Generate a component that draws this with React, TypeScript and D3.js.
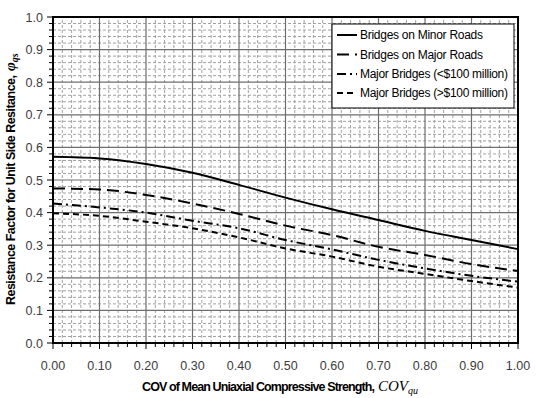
import * as d3 from "d3";

const WIDTH = 536;
const HEIGHT = 398;
const MARGIN = { top: 17, right: 18, bottom: 55, left: 53 };

const COV = [0, 0.1, 0.2, 0.3, 0.4, 0.5, 0.6, 0.7, 0.8, 0.9, 1.0];
const MINOR_ROADS = [0.571, 0.566, 0.549, 0.522, 0.485, 0.446, 0.41, 0.377, 0.344, 0.316, 0.288];
const MAJOR_ROADS = [0.474, 0.471, 0.454, 0.428, 0.396, 0.36, 0.331, 0.295, 0.27, 0.242, 0.221];
const MAJOR_LT100 = [0.428, 0.416, 0.4, 0.375, 0.352, 0.316, 0.287, 0.255, 0.229, 0.206, 0.188];
const MAJOR_GT100 = [0.398, 0.39, 0.372, 0.352, 0.324, 0.29, 0.265, 0.234, 0.212, 0.19, 0.17];

const SERIES = [
  { name: "Bridges on Minor Roads", values: MINOR_ROADS, dash: "" },
  { name: "Bridges on Major Roads", values: MAJOR_ROADS, dash: "12,6" },
  { name: "Major Bridges (<$100 million)", values: MAJOR_LT100, dash: "9,4,2,4" },
  { name: "Major Bridges (>$100 million)", values: MAJOR_GT100, dash: "6,4" },
];

const FONT = "Arial, 'Liberation Sans', sans-serif";
const SERIF = "'Liberation Serif', 'Times New Roman', serif";

export default function App() {
  const x = d3
    .scaleLinear()
    .domain([0, 1])
    .range([MARGIN.left, WIDTH - MARGIN.right]);
  const y = d3
    .scaleLinear()
    .domain([0, 1])
    .range([HEIGHT - MARGIN.bottom, MARGIN.top]);

  const majorTicks = d3.range(0, 11).map((i) => i / 10);
  const minorTicks = d3.range(0, 51).map((i) => i / 50).filter((_, i) => i % 5 !== 0);

  const line = d3
    .line<number>()
    .x((_, i) => x(COV[i]))
    .y((d) => y(d))
    .curve(d3.curveMonotoneX);

  const x0 = x(0);
  const x1 = x(1);
  const y0 = y(0);
  const y1 = y(1);

  const legendX = 332;
  const legendY = 24;
  const legendRows = [35, 54.5, 74, 93];

  return (
    <svg width={WIDTH} height={HEIGHT} style={{ position: "absolute", left: 0, top: 0 }}>
      <rect width={WIDTH} height={HEIGHT} fill="#fff" />
      {/* minor grid */}
      <g stroke="#a0a0a0" strokeWidth={1} strokeDasharray="3,2">
        {minorTicks.map((t) => (
          <line key={"mx" + t} x1={x(t)} x2={x(t)} y1={y0} y2={y1} />
        ))}
        {minorTicks.map((t) => (
          <line key={"my" + t} x1={x0} x2={x1} y1={y(t)} y2={y(t)} />
        ))}
      </g>
      {/* major grid */}
      <g stroke="#6e6e6e" strokeWidth={1.2}>
        {majorTicks.map((t) => (
          <line key={"gx" + t} x1={x(t)} x2={x(t)} y1={y0} y2={y1} />
        ))}
        {majorTicks.map((t) => (
          <line key={"gy" + t} x1={x0} x2={x1} y1={y(t)} y2={y(t)} />
        ))}
      </g>
      {/* axis ticks */}
      <g stroke="#000" strokeWidth={1}>
        {majorTicks.map((t) => (
          <line key={"ty" + t} x1={x0 - 6} x2={x0} y1={y(t)} y2={y(t)} />
        ))}
        {minorTicks.map((t) => (
          <line key={"tym" + t} x1={x0 - 4} x2={x0} y1={y(t)} y2={y(t)} />
        ))}
        {majorTicks.map((t) => (
          <line key={"tx" + t} x1={x(t)} x2={x(t)} y1={y0} y2={y0 + 6} />
        ))}
        {minorTicks.map((t) => (
          <line key={"txm" + t} x1={x(t)} x2={x(t)} y1={y0} y2={y0 + 4} />
        ))}
      </g>
      {/* plot border */}
      <rect x={x0} y={y1} width={x1 - x0} height={y0 - y1} fill="none" stroke="#000" strokeWidth={2} />
      {/* tick labels */}
      <g fontFamily={FONT} fontSize={12.5} fill="#3c3c3c">
        {majorTicks.map((t) => (
          <text key={"ly" + t} x={x0 - 10} y={y(t) + 4.5} textAnchor="end">
            {d3.format(".1f")(t)}
          </text>
        ))}
        {majorTicks.map((t) => (
          <text key={"lx" + t} x={x(t)} y={y0 + 27} textAnchor="middle">
            {d3.format(".2f")(t)}
          </text>
        ))}
      </g>
      {/* series */}
      <g fill="none" stroke="#000" strokeWidth={2}>
        {SERIES.map((s) => (
          <path key={s.name} d={line(s.values) ?? ""} strokeDasharray={s.dash || undefined} />
        ))}
      </g>
      {/* legend */}
      <rect x={legendX} y={legendY} width={182} height={84} fill="#fff" stroke="#000" strokeWidth={1} />
      {SERIES.map((s, i) => (
        <g key={"lg" + s.name}>
          <line
            x1={337}
            x2={357}
            y1={legendRows[i]}
            y2={legendRows[i]}
            stroke="#000"
            strokeWidth={2}
            strokeDasharray={s.dash || undefined}
          />
          <text
            x={360}
            y={legendRows[i] + 4}
            fontFamily={FONT}
            fontSize={12}
            fill="#000"
            textLength={i > 1 ? 148 : 123}
          >
            {s.name}
          </text>
        </g>
      ))}
      {/* axis titles */}
      <text x={142} y={391} fontFamily={FONT} fontSize={12.5} fontWeight="bold" fill="#000" textLength={233}>
        COV of Mean Uniaxial Compressive Strength,
      </text>
      <text x={378} y={391} fontFamily={SERIF} fontStyle="italic" fontSize={15} fill="#000">
        COV
        <tspan fontSize={10} dy={3}>
          qu
        </tspan>
      </text>
      <g transform="translate(15, 305) rotate(-90)">
        <text x={0} y={0} fontFamily={FONT} fontSize={12.5} fontWeight="bold" fill="#000" textLength={230}>
          Resistance Factor for Unit Side Resitance,
        </text>
        <text x={234} y={0} fontFamily={SERIF} fontStyle="italic" fontWeight="bold" fontSize={15} fill="#000">
          φ
          <tspan fontSize={10} dy={3}>
            qs
          </tspan>
        </text>
      </g>
    </svg>
  );
}
